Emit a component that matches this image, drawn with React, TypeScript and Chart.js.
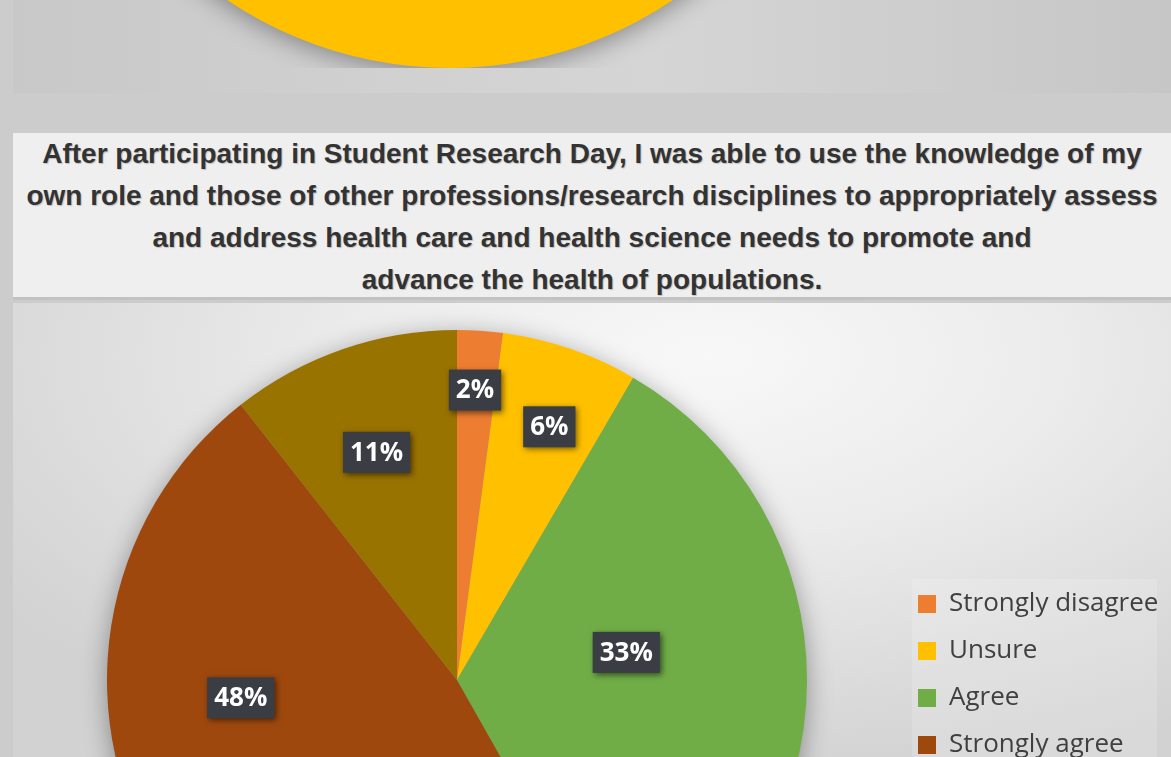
import React, { useEffect, useRef } from 'react';
import { Chart, registerables } from 'chart.js';

Chart.register(...registerables);

// ---- data ----
const categories = ['Strongly disagree', 'Unsure', 'Agree', 'Strongly agree', 'Not applicable'];
const values = [2.1, 6.3, 33.4, 47.6, 10.6];
const percentLabels = ['2%', '6%', '33%', '48%', '11%'];
const colors = ['#ED7D31', '#FFC000', '#70AD47', '#9E480E', '#997300'];

// previous chart on the slide: only its yellow part is visible
const prevCategories = ['Unsure'];
const prevValues = [100];
const prevColors = ['#FFC000'];

const titleLines = [
  'After participating in Student Research Day, I was able to use the knowledge of my',
  'own role and those of other professions/research disciplines to appropriately assess',
  'and address health care and health science needs to promote and',
  'advance the health of populations.',
];

// label placement inside each slice (fraction of slice angle, fraction of radius)
const labelAngleFrac = [0.47, 0.55, 0.42, 0.67, 0.49];
const labelRadiusFrac = [0.83, 0.77, 0.49, 0.62, 0.69];

const MAIN_W = 1200;
const MAIN_H = 560;
const LEGEND_FONT = 26;
const LEGEND_BOX = 18;
const LEGEND_PAD = 21;

const pieShadow = {
  id: 'pieShadow',
  beforeDatasetsDraw(chart: any) {
    const meta = chart.getDatasetMeta(0);
    const arc = meta.data[0];
    if (!arc) return;
    const { x, y, outerRadius } = arc.getProps(['x', 'y', 'outerRadius'], true);
    const ctx = chart.ctx;
    ctx.save();
    ctx.shadowColor = 'rgba(0,0,0,0.38)';
    ctx.shadowBlur = 26;
    ctx.shadowOffsetY = 5;
    ctx.beginPath();
    ctx.arc(x, y, outerRadius - 1, 0, Math.PI * 2);
    ctx.fillStyle = '#999';
    ctx.fill();
    ctx.restore();
  },
};

const legendBg = {
  id: 'legendBg',
  beforeDraw(chart: any) {
    const lg = chart.legend;
    if (!lg || !lg.legendHitBoxes || !lg.legendHitBoxes.length) return;
    const hb = lg.legendHitBoxes[0];
    const ctx = chart.ctx;
    ctx.save();
    ctx.fillStyle = 'rgba(255,255,255,0.16)';
    ctx.fillRect(hb.left - 6, hb.top - 12, 1144 - (hb.left - 6), chart.height);
    ctx.restore();
  },
};

const sliceLabels = {
  id: 'sliceLabels',
  afterDatasetsDraw(chart: any) {
    const meta = chart.getDatasetMeta(0);
    const ctx = chart.ctx;
    meta.data.forEach((arc: any, i: number) => {
      const { x, y, startAngle, endAngle, outerRadius } = arc.getProps(
        ['x', 'y', 'startAngle', 'endAngle', 'outerRadius'],
        true
      );
      const a = startAngle + (endAngle - startAngle) * labelAngleFrac[i];
      const r = outerRadius * labelRadiusFrac[i];
      const cx = x + Math.cos(a) * r;
      const cy = y + Math.sin(a) * r;
      const text = percentLabels[i];
      ctx.save();
      ctx.font = 'bold 26px "Open Sans"';
      const w = ctx.measureText(text).width + 14;
      const h = 41;
      ctx.shadowColor = 'rgba(0,0,0,0.55)';
      ctx.shadowBlur = 6;
      ctx.shadowOffsetX = 2;
      ctx.shadowOffsetY = 2;
      ctx.fillStyle = '#3a3d44';
      ctx.fillRect(cx - w / 2, cy - h / 2, w, h);
      ctx.shadowColor = 'transparent';
      ctx.fillStyle = '#ffffff';
      ctx.textAlign = 'center';
      ctx.textBaseline = 'middle';
      ctx.fillText(text, cx, cy + 1);
      ctx.restore();
    });
  },
};

export default function App() {
  const mainRef = useRef<HTMLCanvasElement>(null);
  const prevRef = useRef<HTMLCanvasElement>(null);

  useEffect(() => {
    document.body.style.margin = '0';
    document.body.style.overflow = 'hidden';

    const m = document.createElement('canvas').getContext('2d')!;
    m.font = `normal ${LEGEND_FONT}px "Open Sans"`;
    const maxText = Math.max(...categories.map((c) => m.measureText(c).width));
    const legendW = LEGEND_BOX + LEGEND_FONT / 2 + maxText + 10 + LEGEND_PAD;
    const legendLeft = 884;
    const padR = Math.max(0, MAIN_W - legendLeft - legendW);

    const main = new Chart(mainRef.current!, {
      type: 'pie',
      data: {
        labels: categories,
        datasets: [
          {
            data: values,
            backgroundColor: colors,
            borderWidth: 0,
            hoverOffset: 0,
            radius: 350,
            clip: false,
          } as any,
        ],
      },
      options: {
        responsive: false,
        animation: false,
        events: [],
        layout: { padding: { left: 888 - legendLeft, top: 231, bottom: MAIN_H - 523, right: padR } },
        plugins: {
          legend: {
            position: 'right',
            align: 'end',
            labels: {
              boxWidth: LEGEND_BOX,
              boxHeight: LEGEND_BOX,
              padding: LEGEND_PAD,
              color: '#404040',
              font: { family: '"Open Sans"', size: LEGEND_FONT },
            },
          },
          tooltip: { enabled: false },
        },
      } as any,
      plugins: [legendBg, pieShadow, sliceLabels],
    });

    const prev = new Chart(prevRef.current!, {
      type: 'pie',
      data: {
        labels: prevCategories,
        datasets: [
          {
            data: prevValues,
            backgroundColor: prevColors,
            borderWidth: 0,
            hoverOffset: 0,
            clip: false,
          } as any,
        ],
      },
      options: {
        responsive: false,
        animation: false,
        events: [],
        plugins: { legend: { display: false }, tooltip: { enabled: false } },
      } as any,
      plugins: [pieShadow],
    });

    return () => {
      main.destroy();
      prev.destroy();
    };
  }, []);

  return (
    <div
      style={{
        position: 'fixed',
        left: 0,
        top: 0,
        width: 1171,
        height: 757,
        overflow: 'hidden',
        background: '#cccccc',
      }}
    >
      <div
        style={{
          position: 'absolute',
          left: 13,
          top: 0,
          width: 1158,
          height: 93,
          overflow: 'hidden',
          background:
            'linear-gradient(90deg, #c8c8c8 0%, #d0d0d0 30%, #d5d5d5 55%, #cdcdcd 80%, #c6c6c6 100%)',
        }}
      >
        <canvas
          ref={prevRef}
          width={874}
          height={800}
          style={{ position: 'absolute', left: 0, top: -732, width: 874, height: 800 }}
        />
      </div>

      <div
        style={{
          position: 'absolute',
          left: 13,
          top: 133,
          width: 1158,
          height: 167,
          background: '#efefef',
          borderBottom: '3px solid #c2c2c2',
          paddingTop: 0,
          boxSizing: 'border-box',
          fontFamily: '"Liberation Sans", Arial, sans-serif',
          fontWeight: 'bold',
          fontSize: 28,
          lineHeight: '42px',
          color: '#333333',
          textAlign: 'center',
          textShadow: '1px 1px 1px rgba(0,0,0,0.2)',
          whiteSpace: 'nowrap',
        }}
      >
        {titleLines.map((t, i) => (
          <div key={i}>{t}</div>
        ))}
      </div>

      <div
        style={{
          position: 'absolute',
          left: 13,
          top: 303,
          width: 1158,
          height: 454,
          overflow: 'hidden',
          background:
            'radial-gradient(ellipse 75% 95% at 60% 12%, #f8f8f8 0%, #ececec 40%, #dadada 80%, #d2d2d2 100%)',
        }}
      >
        <canvas
          ref={mainRef}
          width={MAIN_W}
          height={MAIN_H}
          style={{ position: 'absolute', left: 0, top: 0, width: MAIN_W, height: MAIN_H }}
        />
      </div>
    </div>
  );
}
